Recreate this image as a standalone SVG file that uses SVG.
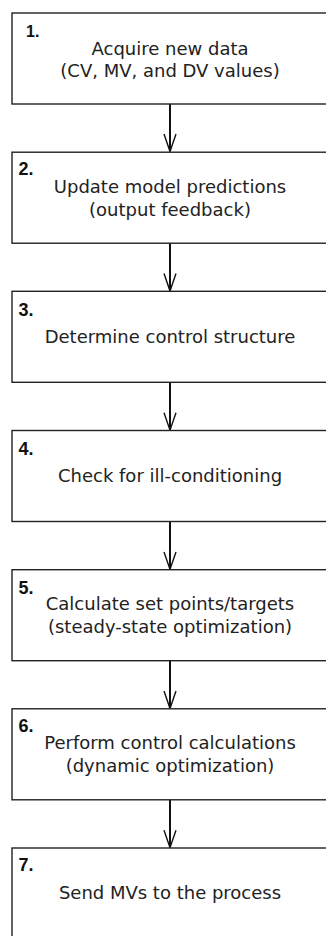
<svg xmlns="http://www.w3.org/2000/svg" width="326" height="936" viewBox="0 0 326 936">
<style>
.box{fill:#fff;stroke:#222;stroke-width:1.4}
.num{font-family:"Liberation Sans",Arial,sans-serif;font-weight:bold;font-size:18px;fill:#111}
.txt{font-family:"DejaVu Sans",sans-serif;font-size:18px;fill:#222;text-anchor:middle}
.ln{stroke:#111;stroke-width:2;fill:none}
.hd{stroke:#111;stroke-width:1.4;fill:none}
</style>
<rect width="326" height="936" fill="#fff"/>
<g id="connectors">
<line class="ln" x1="170" y1="104" x2="170" y2="151"/><polyline class="hd" points="164,134 170,151.5 176,134"/>
<line class="ln" x1="170" y1="243" x2="170" y2="290.5"/><polyline class="hd" points="164,273.5 170,291 176,273.5"/>
<line class="ln" x1="170" y1="382.3" x2="170" y2="429.7"/><polyline class="hd" points="164,412.7 170,430.2 176,412.7"/>
<line class="ln" x1="170" y1="521.5" x2="170" y2="568.9"/><polyline class="hd" points="164,551.9 170,569.4 176,551.9"/>
<line class="ln" x1="170" y1="660.7" x2="170" y2="708"/><polyline class="hd" points="164,691 170,708.5 176,691"/>
<line class="ln" x1="170" y1="799.8" x2="170" y2="847.2"/><polyline class="hd" points="164,830.2 170,847.7 176,830.2"/>
</g>
<g id="n1"><rect class="box" x="12" y="13" width="330" height="91"/>
<text class="num" x="26" y="37" style="font-size:16px">1.</text>
<text class="txt" x="170" y="55">Acquire new data</text>
<text class="txt" x="170" y="77">(CV, MV, and DV values)</text></g>
<g id="n2"><rect class="box" x="12" y="152.2" width="330" height="91"/>
<text class="num" x="18.5" y="174.5">2.</text>
<text class="txt" x="170" y="193">Update model predictions</text>
<text class="txt" x="170" y="216">(output feedback)</text></g>
<g id="n3"><rect class="box" x="12" y="291.3" width="330" height="91"/>
<text class="num" x="18.5" y="315.5">3.</text>
<text class="txt" x="170" y="343">Determine control structure</text></g>
<g id="n4"><rect class="box" x="12" y="430.5" width="330" height="91"/>
<text class="num" x="18.5" y="454.5">4.</text>
<text class="txt" x="170" y="482">Check for ill-conditioning</text></g>
<g id="n5"><rect class="box" x="12" y="569.7" width="330" height="91"/>
<text class="num" x="18.5" y="593.5">5.</text>
<text class="txt" x="170" y="610">Calculate set points/targets</text>
<text class="txt" x="170" y="633">(steady-state optimization)</text></g>
<g id="n6"><rect class="box" x="12" y="708.8" width="330" height="91"/>
<text class="num" x="18.5" y="731.5">6.</text>
<text class="txt" x="170" y="749">Perform control calculations</text>
<text class="txt" x="170" y="772">(dynamic optimization)</text></g>
<g id="n7"><rect class="box" x="12" y="848" width="330" height="91"/>
<text class="num" x="18.5" y="870.5">7.</text>
<text class="txt" x="170" y="899">Send MVs to the process</text></g>
</svg>
